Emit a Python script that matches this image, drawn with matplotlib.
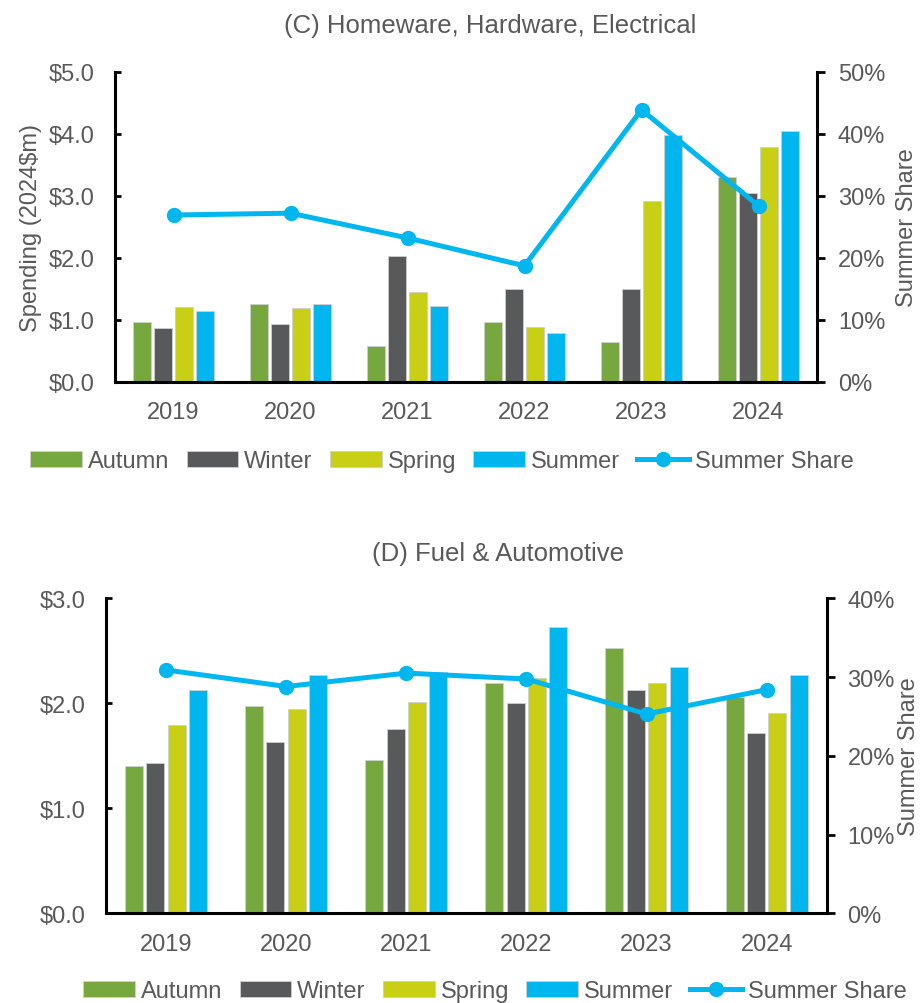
import numpy as np
import matplotlib.pyplot as plt
from matplotlib.patches import Patch
from matplotlib.lines import Line2D
from matplotlib.ticker import FuncFormatter, PercentFormatter

plt.rcParams['font.family'] = ['Liberation Sans', 'DejaVu Sans']

years = ['2019', '2020', '2021', '2022', '2023', '2024']
seasons = ['Autumn', 'Winter', 'Spring', 'Summer']
colors = ['#76a83f', '#58595b', '#c8cf14', '#00b6ee']
line_col = '#00b6ee'
text_col = '#595959'

# (C) Homeware, Hardware, Electrical  -- 2024$m
autumn_c = [0.96, 1.26, 0.58, 0.96, 0.64, 3.30]
winter_c = [0.86, 0.93, 2.03, 1.49, 1.49, 3.04]
spring_c = [1.20, 1.19, 1.44, 0.88, 2.92, 3.79]
summer_c = [1.14, 1.26, 1.22, 0.78, 3.99, 4.05]
share_c = [26.9, 27.2, 23.2, 18.7, 43.9, 28.4]

# (D) Fuel & Automotive
autumn_d = [1.40, 1.97, 1.46, 2.19, 2.53, 2.06]
winter_d = [1.43, 1.63, 1.76, 2.00, 2.13, 1.72]
spring_d = [1.79, 1.95, 2.01, 2.24, 2.19, 1.91]
summer_d = [2.13, 2.27, 2.30, 2.73, 2.35, 2.27]
share_d = [30.9, 28.8, 30.5, 29.75, 25.3, 28.4]

W, H = 922, 1004
fig = plt.figure(figsize=(W / 100, H / 100), dpi=100)
fs = 17


def panel(rect, series, share, title, title_xy, ymax, smax, left_label,
          right_x, legend_xy):
    ax = fig.add_axes(rect)
    x = np.arange(len(years))
    step, width = 0.178, 0.15
    for i, vals in enumerate(series):
        ax.bar(x + (i - 1.5) * step, vals, width, color=colors[i],
               edgecolor='#d0d0d0', linewidth=0.6, zorder=2)
    ax.set_xlim(-0.5, len(years) - 0.5)
    ax.set_ylim(0, ymax)
    ax.set_yticks(np.arange(0, ymax + 0.01, 1))
    ax.yaxis.set_major_formatter(FuncFormatter(lambda v, p: '${:.1f}'.format(v)))
    ax.set_xticks(x)
    ax.set_xticklabels(years)
    ax.tick_params(axis='x', length=0, pad=14, labelsize=fs, colors=text_col)
    ax.tick_params(axis='y', direction='in', length=4, width=2, pad=15,
                   labelsize=fs, labelcolor=text_col)
    for s in ['top', 'right']:
        ax.spines[s].set_visible(False)
    for s in ['left', 'bottom']:
        ax.spines[s].set_linewidth(2.2)

    ax2 = ax.twinx()
    ax2.plot(x, share, color=line_col, lw=3.6, marker='o', ms=10, zorder=3)
    ax2.set_ylim(0, smax)
    ax2.set_yticks(np.arange(0, smax + 0.01, 10))
    ax2.yaxis.set_major_formatter(PercentFormatter(decimals=0))
    ax2.tick_params(axis='y', direction='out', length=6, width=2, pad=9,
                    labelsize=fs, labelcolor=text_col)
    for s in ['top', 'left', 'bottom']:
        ax2.spines[s].set_visible(False)
    ax2.spines['right'].set_linewidth(2.2)

    fig.text(title_xy[0], title_xy[1], title, ha='center', va='center',
             fontsize=18.5, color=text_col)
    if left_label:
        ax.text(-0.12, 0.5, 'Spending (2024$m)', transform=ax.transAxes,
                rotation=90, ha='center', va='center', fontsize=fs, color=text_col)
    ax2.text(right_x, 0.5, 'Summer Share', transform=ax.transAxes,
             rotation=90, ha='center', va='center', fontsize=fs, color=text_col)

    handles = [Patch(facecolor=c, edgecolor='#d0d0d0', linewidth=0.6) for c in colors]
    handles.append(Line2D([], [], color=line_col, lw=3.6, marker='o', ms=10))
    fig.legend(handles, seasons + ['Summer Share'], loc='center',
               bbox_to_anchor=legend_xy, ncol=5, frameon=False, fontsize=fs,
               labelcolor=text_col, handlelength=2.2, handleheight=0.65,
               handletextpad=0.25, columnspacing=0.72)


panel([115 / W, 1 - 382.6 / H, 702 / W, 309.6 / H],
      [autumn_c, winter_c, spring_c, summer_c], share_c,
      '(C) Homeware, Hardware, Electrical', (490 / W, 1 - 26 / H),
      5, 50, True, 1.128, (442 / W, 1 - 462 / H))
panel([106 / W, 1 - 914.3 / H, 720.7 / W, 315 / H],
      [autumn_d, winter_d, spring_d, summer_d], share_d,
      '(D) Fuel & Automotive', (498 / W, 1 - 554 / H),
      3, 40, False, 1.114, (495 / W, 1 - 992 / H))

fig.savefig('out.png', dpi=100)
